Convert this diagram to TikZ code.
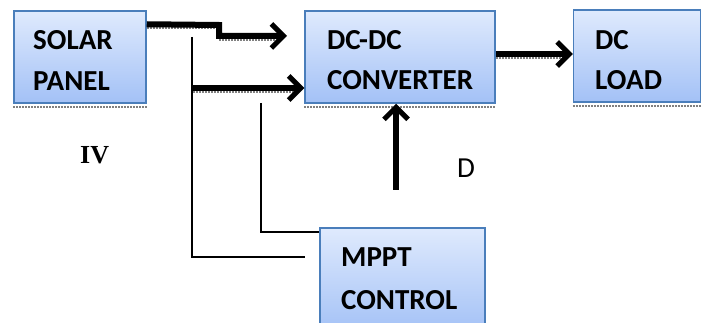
\documentclass[tikz,border=0pt]{standalone}
\usepackage{fontspec}
\setmainfont{Carlito}
\newfontfamily\serifbf{Liberation Serif}
\usetikzlibrary{arrows.meta,calc}
\definecolor{boxtop}{HTML}{DFEAFD}
\definecolor{boxbot}{HTML}{A3C1F6}
\definecolor{boxline}{HTML}{4A7EBB}
\tikzset{
  blockbox/.style={draw=boxline, line width=1.5pt, top color=boxtop, bottom color=boxbot, inner sep=0pt},
  boxtext/.style={anchor=base west, inner sep=0pt, font=\fontsize{29}{29}\selectfont\bfseries},
  bigtip/.style={-{Straight Barb[length=12pt,width=24pt,line width=5pt]}},
  thickarrow/.style={line width=6pt, bigtip},
  thinline/.style={line width=1.3pt},
  shadowline/.style={draw=gray, densely dotted, line width=2pt}
}
\begin{document}
\begin{tikzpicture}[x=1pt,y=-1pt]
\useasboundingbox (0,0) rectangle (702,323);
% boxes
\node[blockbox, minimum width=132pt, minimum height=92pt] (sp) at (80,57) {};
\node[blockbox, minimum width=190pt, minimum height=92pt] (dc) at (400,57) {};
\node[blockbox, minimum width=127pt, minimum height=92pt] (load) at (637,56) {};
\node[blockbox, minimum width=165pt, minimum height=105pt] (mppt) at (402.5,280.5) {};
% texts
\node[boxtext] (spa) at (33,50) {SOLAR};
\node[boxtext] (spb) at (33,91) {PANEL};
\node[boxtext] (dca) at (327,50) {DC-DC};
\node[boxtext] (dcb) at (327,90) {CONVERTER};
\node[boxtext] (loada) at (595,50) {DC};
\node[boxtext] (loadb) at (595,90) {LOAD};
\node[boxtext] (mppta) at (341,267) {MPPT};
\node[boxtext] (mpptb) at (341,309) {CONTROL};
\node[anchor=base west, inner sep=0pt, font=\serifbf\fontsize{26}{26}\selectfont\bfseries] (iv) at (80,164) {IV};
\node[anchor=base west, inner sep=0pt, font=\fontsize{29}{29}\selectfont] (dlab) at (457,178) {D};
% coordinates
\coordinate (a1s) at ($(sp.north east)+(0,14)$);
\coordinate (a1k) at (219,25);
\coordinate (a1e) at (287,36);
\coordinate (j1) at (193,88);
\coordinate (v1top) at (192,37);
\coordinate (v1bot) at (192,257);
\coordinate (v1end) at (305,257);
\coordinate (v2top) at (261,103);
\coordinate (v2bot) at (261,232);
\coordinate (dtail) at (396,190);
% shadows under boxes and arrows
\draw[shadowline] ($(sp.south west)+(0,3)$) -- ($(sp.south east)+(0,3)$);
\draw[shadowline] ($(dc.south west)+(0,3)$) -- ($(dc.south east)+(0,3)$);
\draw[shadowline] ($(load.south west)+(0,3)$) -- ($(load.south east)+(0,3)$);
\begin{scope}[transform canvas={yshift=-4pt}]
\draw[shadowline] (a1s) -- (a1k |- a1s);
\draw[shadowline] (a1k |- a1e) -- ($(a1e)+(-6,0)$);
\draw[shadowline] (j1) -- ($(j1 -| dc.west)+(-6,0)$);
\draw[shadowline] ($(dc.east)+(0,-3)$) -- ($(dc.east -| load.west)+(-6,-3)$);
\end{scope}
% thick arrows
\draw[thickarrow] (a1s) -- (a1k) -- (a1k |- a1e) -- (a1e);
\draw[thickarrow] (j1) -- (j1 -| dc.west);
\draw[thickarrow] ($(dc.east)+(0,-3)$) -- ($(dc.east -| load.west)+(0,-3)$);
\draw[line width=5.5pt, bigtip] (dtail) -- (dtail |- dc.south);
% thin lines
\draw[thinline] (v1top) -- (v1bot) -- (v1end);
\draw[thinline] (v2top) -- (v2bot) -- (v2bot -| mppt.west);
\end{tikzpicture}
\end{document}
